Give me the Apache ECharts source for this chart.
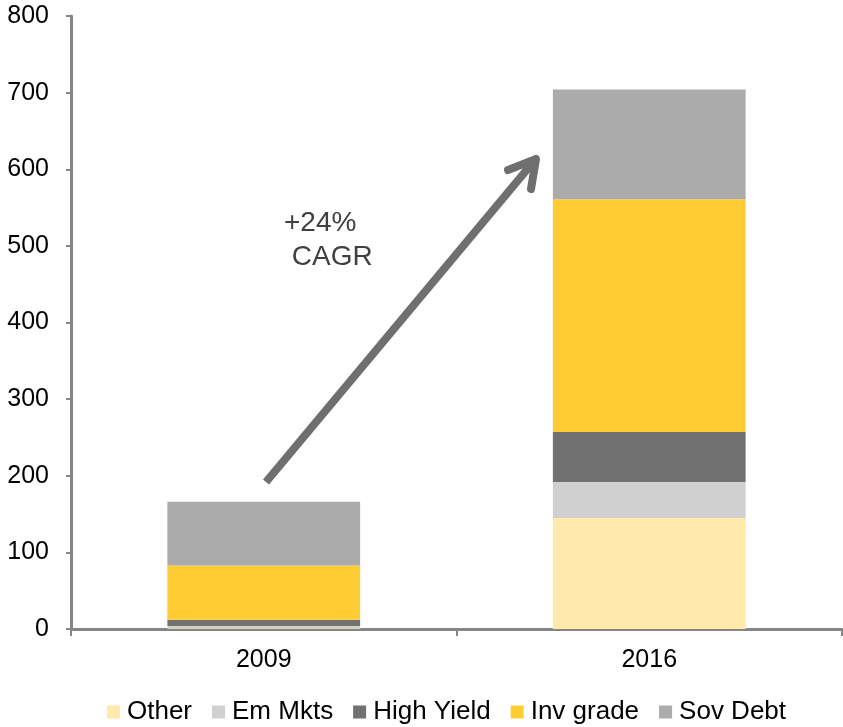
<!DOCTYPE html>
<html lang="en" style="height: 100%">
<head>
  <meta charset="UTF-8">
  <title>Chart</title>
  <script src="https://cdn.jsdelivr.net/npm/echarts@6.0.0/dist/echarts.min.js"></script>
</head>
<body style="height: 100%; margin: 0">
  <div id="container" style="width: 843px; height: 727px"></div>
  <script>
    var years = ['2009', '2016'];
    var other = [1, 145];
    var emMkts = [3, 47];
    var highYield = [8, 65];
    var invGrade = [71, 304];
    var sovDebt = [83, 143];
    var yTicks = [0, 100, 200, 300, 400, 500, 600, 700, 800];

    var chart = echarts.init(document.getElementById('container'));
    var font = 'Liberation Sans, Arial, sans-serif';

    function bar(name, data, color) {
      return {
        name: name, type: 'bar', stack: 'total', data: data,
        barWidth: '50%',
        itemStyle: { color: color },
        emphasis: { disabled: true }
      };
    }

    var option = {
      animation: false,
      grid: { left: 71, right: 1, top: 16, bottom: 98, containLabel: false },
      legend: {
        top: 699, left: 107, padding: 0,
        itemWidth: 13, itemHeight: 13, itemGap: 20,
        icon: 'rect',
        textStyle: { fontFamily: font, fontSize: 26, color: '#000', padding: [0, 0, 0, 2] },
        data: ['Other', 'Em Mkts', 'High Yield', 'Inv grade', 'Sov Debt']
      },
      xAxis: {
        type: 'category', data: years,
        axisLine: { lineStyle: { color: '#868686', width: 3 } },
        axisTick: { show: true, length: 7, lineStyle: { color: '#868686', width: 2 } },
        axisLabel: { fontFamily: font, fontSize: 25, color: '#000', margin: 19 }
      },
      yAxis: {
        type: 'value', min: yTicks[0], max: yTicks[yTicks.length - 1], interval: 100,
        splitLine: { show: false },
        axisLine: { show: true, lineStyle: { color: '#868686', width: 3 } },
        axisTick: { show: true, length: 5, lineStyle: { color: '#868686', width: 2 } },
        axisLabel: { fontFamily: font, fontSize: 25, color: '#000', margin: 22 }
      },
      series: [
        bar('Other', other, '#FFE9AB'),
        bar('Em Mkts', emMkts, '#D0D0D0'),
        bar('High Yield', highYield, '#717171'),
        bar('Inv grade', invGrade, '#FFCC33'),
        bar('Sov Debt', sovDebt, '#ABABAB')
      ],
      graphic: [
        {
          type: 'line', shape: { x1: 266, y1: 482, x2: 535, y2: 160 },
          style: { stroke: '#6F6F6F', lineWidth: 8 }
        },
        {
          type: 'polyline', shape: { points: [[508, 170], [536, 159], [531, 189]] },
          style: { stroke: '#6F6F6F', lineWidth: 8, fill: null, lineCap: 'round', lineJoin: 'round' }
        },
        {
          type: 'text', left: 284, top: 206,
          style: { text: '+24%\n CAGR', font: '28px ' + font, fill: '#404040', lineHeight: 34 }
        }
      ]
    };
    chart.setOption(option);
  </script>
</body>
</html>
